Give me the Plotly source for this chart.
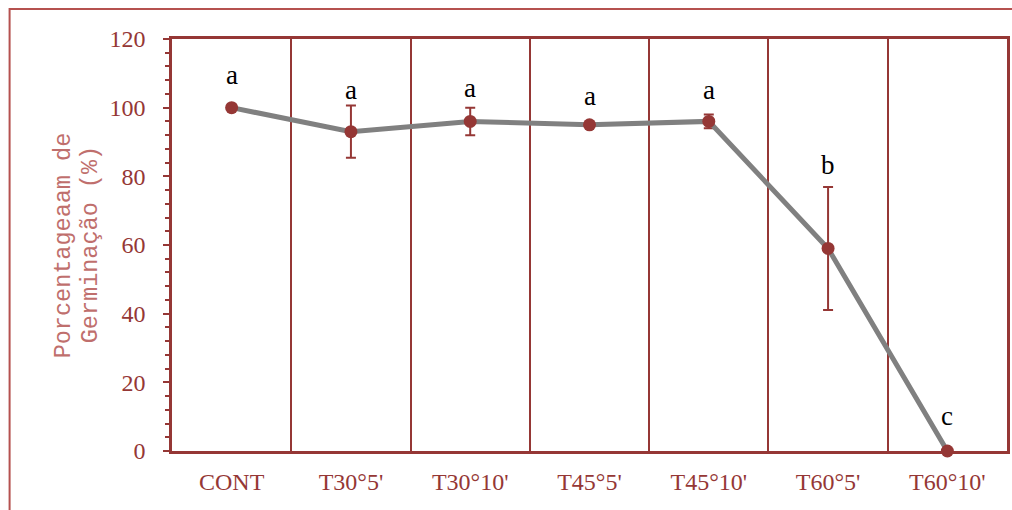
import plotly.graph_objects as go

# Germination percentage per heat treatment (mean ± error)
categories = ["CONT", "T30°5'", "T30°10'", "T45°5'", "T45°10'", "T60°5'", "T60°10'"]
germination = [100, 93, 96, 95, 96, 59, 0]
error = [0, 7.6, 4, 0, 2, 17.9, 0]
groups = ["a", "a", "a", "a", "a", "b", "c"]

# vertical offset (px) of each group letter above its error bar
letter_shift = [33, 16, 20, 29, 25, 22, 35]

# y-axis title, one entry per line
y_title_lines = ["Porcentageaam de", "Germinação (%)"]

DARK_RED = "#953735"
FRAME_RED = "#b5514f"
TITLE_RED = "#bf6f6d"

fig = go.Figure()

fig.add_trace(go.Scatter(
    x=categories,
    y=germination,
    mode="lines+markers",
    line=dict(color="#808080", width=5),
    marker=dict(color=DARK_RED, size=13),
    error_y=dict(type="data", array=error, visible=True,
                 color=DARK_RED, thickness=2, width=5),
    showlegend=False,
    cliponaxis=False,
))

for cat, val, err, grp, shift in zip(categories, germination, error, groups, letter_shift):
    fig.add_annotation(
        x=cat, y=val + err, text=grp, showarrow=False,
        yanchor="middle", yshift=shift,
        font=dict(family="Liberation Serif", size=27, color="black"),
    )

# rotated y-axis title, drawn line by line for tight spacing
for line_text, xpos in zip(y_title_lines, [-0.1301, -0.0979]):
    fig.add_annotation(
        xref="paper", yref="paper", x=xpos, y=0.5,
        text=line_text, textangle=-90, showarrow=False,
        xanchor="center", yanchor="middle",
        font=dict(family="Liberation Mono", size=23.5, color=TITLE_RED),
    )

# outer frame around the chart
fig.add_shape(
    type="rect", xref="paper", yref="paper",
    x0=-0.1945, x1=1.05, y0=-0.3, y1=1.0728,
    line=dict(color=FRAME_RED, width=2), layer="below",
)

fig.update_layout(
    width=1012, height=510,
    margin=dict(l=172, r=2, t=39, b=59),
    paper_bgcolor="white",
    plot_bgcolor="white",
    font=dict(family="Liberation Serif", color=DARK_RED),
    xaxis=dict(
        type="category",
        tickson="boundaries",
        showgrid=True, gridcolor=DARK_RED, gridwidth=1.5,
        showline=True, linecolor=DARK_RED, linewidth=2.5, mirror=True,
        ticks="", tickfont=dict(size=24, color=DARK_RED),
        ticklabelstandoff=7,
        range=[-0.5, 6.5],
    ),
    yaxis=dict(
        range=[0, 120],
        tickvals=[0, 20, 40, 60, 80, 100, 120],
        showgrid=False, zeroline=False,
        showline=True, linecolor=DARK_RED, linewidth=2.5, mirror=True,
        ticks="outside", ticklen=6, tickwidth=2, tickcolor=DARK_RED,
        minor=dict(dtick=4, ticks="outside", ticklen=4, tickwidth=2, tickcolor=DARK_RED),
        tickfont=dict(size=24, color=DARK_RED),
        ticklabelstandoff=13,
    ),
)

fig.write_html("out.html")
